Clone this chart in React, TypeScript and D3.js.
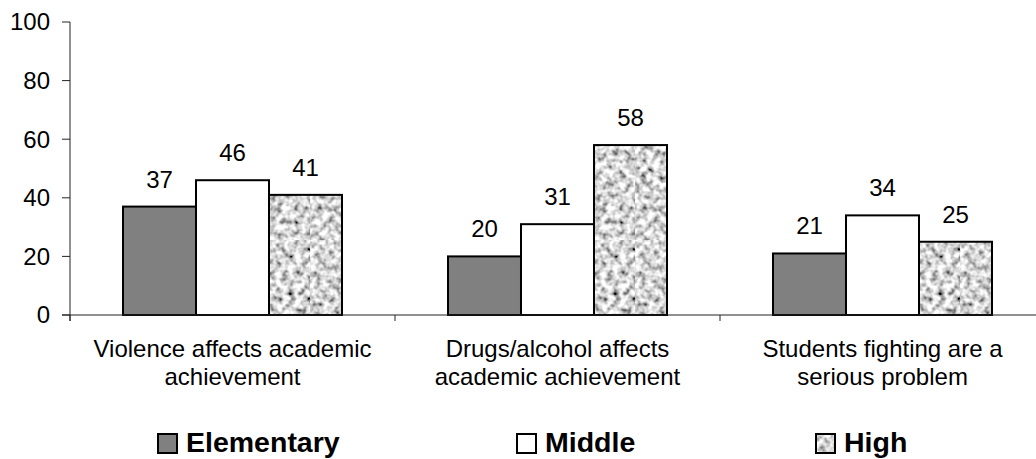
import React from "react";
import * as d3 from "d3";

const categories = [
  ["Violence affects academic", "achievement"],
  ["Drugs/alcohol affects", "academic achievement"],
  ["Students fighting are a", "serious problem"],
];
const seriesNames = ["Elementary", "Middle", "High"];
const elementary = [37, 20, 21];
const middle = [46, 31, 34];
const high = [41, 58, 25];
const yTicks = [0, 20, 40, 60, 80, 100];

const W = 1036;
const H = 459;
const FONT = "'Liberation Sans', Arial, Helvetica, sans-serif";

const seriesValues = [elementary, middle, high];
const fills = ["#808080", "#ffffff", "url(#granite)"];

export default function App() {
  const x0 = d3
    .scaleBand<number>()
    .domain(categories.map((_, i) => i))
    .range([70, 1045])
    .paddingInner(0)
    .paddingOuter(0);
  const x1 = d3
    .scaleBand<number>()
    .domain(seriesNames.map((_, i) => i))
    .range([0, x0.bandwidth()])
    .paddingInner(0)
    .paddingOuter(0.726);
  const y = d3.scaleLinear().domain([0, 100]).range([315, 22]);

  const legendX = [157, 516, 815];

  return (
    <svg
      width={W}
      height={H}
      style={{ position: "absolute", left: 0, top: 0, background: "#fff" }}
      fontFamily={FONT}
    >
      <defs>
        <filter id="graniteNoise" x="0" y="0" width="100%" height="100%">
          <feTurbulence type="fractalNoise" baseFrequency="0.16" numOctaves="2" seed="7" result="n" />
          <feColorMatrix
            in="n"
            type="matrix"
            result="g"
            values="1.9 0 0 0 -0.28  1.9 0 0 0 -0.28  1.9 0 0 0 -0.28  0 0 0 0 1"
          />
          <feGaussianBlur in="g" stdDeviation="0.5" />
        </filter>
        <pattern id="granite" patternUnits="userSpaceOnUse" width="240" height="240">
          <rect width="240" height="240" filter="url(#graniteNoise)" />
        </pattern>
      </defs>

      {/* y axis */}
      <line x1={70} x2={70} y1={y(100)} y2={y(0) + 6} stroke="#222" strokeWidth={1} />
      {yTicks.map((t) => (
        <g key={t}>
          <line x1={62} x2={70} y1={y(t)} y2={y(t)} stroke="#222" strokeWidth={1} />
          <text x={50} y={y(t)} dy="0.35em" textAnchor="end" fontSize={24} fill="#000">
            {t}
          </text>
        </g>
      ))}

      {/* bars */}
      {categories.map((_, ci) => (
        <g key={ci} transform={`translate(${x0(ci)},0)`}>
          {seriesValues.map((vals, si) => {
            const v = vals[ci];
            const bx = x1(si) as number;
            const bw = x1.bandwidth();
            return (
              <g key={si}>
                <rect
                  x={bx}
                  y={y(v)}
                  width={bw}
                  height={y(0) - y(v)}
                  fill={fills[si]}
                  stroke="#000"
                  strokeWidth={2}
                />
                <text
                  x={bx + bw / 2}
                  y={y(v) - 19}
                  textAnchor="middle"
                  fontSize={24}
                  fill="#000"
                >
                  {v}
                </text>
              </g>
            );
          })}
        </g>
      ))}

      {/* x axis with category boundary ticks */}
      <line x1={62} x2={W} y1={y(0)} y2={y(0)} stroke="#222" strokeWidth={1} />
      {[...categories.map((_, ci) => x0(ci) as number), (x0(2) as number) + x0.bandwidth()].map(
        (tx, i) => (
          <line key={i} x1={tx} x2={tx} y1={y(0)} y2={y(0) + 6} stroke="#222" strokeWidth={1} />
        )
      )}

      {/* category labels */}
      {categories.map((lines, ci) => {
        const cx = (x0(ci) as number) + x0.bandwidth() / 2;
        return (
          <text key={ci} x={cx} y={357} textAnchor="middle" fontSize={24} fill="#000">
            {lines.map((ln, li) => (
              <tspan key={li} x={cx} dy={li === 0 ? 0 : 28}>
                {ln}
              </tspan>
            ))}
          </text>
        );
      })}

      {/* legend */}
      {seriesNames.map((name, si) => (
        <g key={name} transform={`translate(${legendX[si]},433)`}>
          <rect x={1} y={1} width={19} height={19} fill={fills[si]} stroke="#000" strokeWidth={2} />
          <text x={29} y={19} fontSize={28.5} fontWeight="bold" fill="#000">
            {name}
          </text>
        </g>
      ))}
    </svg>
  );
}
